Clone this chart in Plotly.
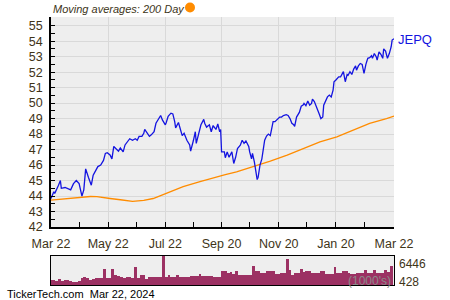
import plotly.graph_objects as go
import pandas as pd

price_dates = [
"2023-03-22","2023-03-25","2023-03-26","2023-03-28","2023-03-30","2023-04-01","2023-04-02","2023-04-06","2023-04-09","2023-04-12",
"2023-04-15","2023-04-18","2023-04-21","2023-04-24","2023-04-26","2023-04-28","2023-05-01","2023-05-04","2023-05-06","2023-05-09",
"2023-05-11","2023-05-14","2023-05-17","2023-05-19","2023-05-21","2023-05-24","2023-05-26","2023-05-28","2023-05-30","2023-06-02",
"2023-06-04","2023-06-07","2023-06-09","2023-06-12","2023-06-14","2023-06-17","2023-06-20","2023-06-22","2023-06-24","2023-06-27",
"2023-06-29","2023-06-30","2023-07-03","2023-07-05","2023-07-07","2023-07-10","2023-07-12","2023-07-15","2023-07-17","2023-07-19",
"2023-07-22","2023-07-23","2023-07-25","2023-07-28","2023-07-30","2023-08-01","2023-08-02","2023-08-05","2023-08-07","2023-08-09",
"2023-08-11","2023-08-14","2023-08-17","2023-08-18","2023-08-21","2023-08-23","2023-08-24","2023-08-26","2023-08-29","2023-09-01",
"2023-09-02","2023-09-04","2023-09-07","2023-09-09","2023-09-11","2023-09-14","2023-09-16","2023-09-18","2023-09-19","2023-09-20",
"2023-09-23","2023-09-24","2023-09-26","2023-09-28","2023-10-01","2023-10-03","2023-10-05","2023-10-07","2023-10-10","2023-10-12",
"2023-10-14","2023-10-16","2023-10-19","2023-10-20","2023-10-22","2023-10-23","2023-10-25","2023-10-28","2023-10-29","2023-10-31",
"2023-11-02","2023-11-04","2023-11-05","2023-11-07","2023-11-09","2023-11-11","2023-11-13","2023-11-14","2023-11-16","2023-11-18",
"2023-11-21","2023-11-23","2023-11-25","2023-11-28","2023-11-30","2023-12-02","2023-12-04","2023-12-06","2023-12-07","2023-12-09",
"2023-12-12","2023-12-14","2023-12-16","2023-12-17","2023-12-19","2023-12-21","2023-12-23","2023-12-25","2023-12-26","2023-12-28",
"2023-12-30","2024-01-01","2024-01-02","2024-01-04","2024-01-06","2024-01-07","2024-01-10","2024-01-11","2024-01-13","2024-01-15",
"2024-01-17","2024-01-18","2024-01-20","2024-01-23","2024-01-25","2024-01-26","2024-01-28","2024-01-30","2024-02-01","2024-02-02",
"2024-02-04","2024-02-06","2024-02-08","2024-02-10","2024-02-11","2024-02-13","2024-02-15","2024-02-17","2024-02-18","2024-02-19",
"2024-02-21","2024-02-23","2024-02-25","2024-02-27","2024-02-28","2024-03-01","2024-03-03","2024-03-04","2024-03-06","2024-03-08",
"2024-03-10","2024-03-11","2024-03-13","2024-03-15","2024-03-17","2024-03-19","2024-03-20","2024-03-22"]

price_close = [
43.84,44.28,44.17,44.40,44.70,45.00,44.50,44.55,44.45,44.40,
44.80,45.00,44.80,44.00,44.40,45.75,45.20,44.70,45.35,45.70,
45.90,46.00,46.30,46.75,46.80,46.65,46.40,47.20,47.10,46.90,
47.10,46.85,47.30,47.50,47.70,47.60,47.70,47.60,47.85,47.85,
48.05,48.30,48.05,47.85,47.95,48.15,48.70,49.00,49.20,48.90,
48.60,48.75,49.15,49.35,49.30,48.80,48.40,48.75,48.30,47.90,
48.05,47.60,47.30,46.90,47.60,48.15,47.40,47.90,48.60,48.95,
48.70,48.45,48.60,48.15,48.55,48.30,48.65,48.15,48.30,46.85,
46.85,46.47,46.85,46.50,46.85,46.10,46.50,47.07,47.28,47.60,
47.40,47.56,47.20,46.85,46.40,46.75,46.20,45.06,45.20,46.00,
46.40,47.20,47.60,47.87,48.00,47.90,48.47,48.80,48.80,48.90,
49.10,49.10,49.20,49.25,49.20,49.00,48.70,48.60,48.50,49.10,
49.40,49.80,49.87,49.98,49.83,50.13,49.87,49.98,50.26,50.10,
49.83,49.55,49.33,49.00,49.10,49.87,50.20,50.40,50.52,50.40,
50.84,51.38,51.49,51.70,51.70,51.85,52.03,51.38,51.85,51.80,
52.03,51.85,52.20,52.40,52.13,52.40,52.56,52.50,52.20,51.92,
52.50,52.89,52.93,53.06,52.89,53.20,53.00,52.78,53.30,53.15,
52.89,53.50,53.36,52.89,53.20,53.64,54.07,54.15]

ma_dates = ["2023-03-22","2023-04-08","2023-04-26","2023-05-03","2023-05-10","2023-05-17","2023-05-24",
"2023-06-04","2023-06-17","2023-06-29","2023-07-09","2023-07-23","2023-08-10","2023-08-28","2023-09-15",
"2023-09-24","2023-10-06","2023-10-24","2023-11-11","2023-11-29","2023-12-16","2024-01-03","2024-01-21",
"2024-02-08","2024-02-25","2024-03-14","2024-03-22"]
ma_200 = [43.74,43.84,43.95,43.97,43.96,43.88,43.84,43.76,43.65,43.72,43.84,44.17,44.60,44.93,45.25,
45.38,45.56,45.88,46.25,46.64,47.07,47.50,47.82,48.25,48.69,49.00,49.16]

# volume in thousands, one bar per 3-day period starting 2023-03-22
vol_start = "2023-03-22"
volume_k = [
1140,1140,850,1290,990,1140,1140,990,760,760,
840,1520,1750,1520,1210,1370,1520,1520,1600,3640,
1520,1520,3560,2280,1900,1750,1520,1670,1670,1520,
4020,1520,2120,2120,1370,1670,1670,1670,1670,1750,
6446,1670,2120,1820,1820,2280,1670,1670,1750,1750,
1900,1900,1900,2430,1900,1900,1900,1900,1750,1750,
1750,3030,3190,2650,2880,2430,3030,2280,2120,2120,
2280,2280,4170,3190,3190,2650,2650,3030,3030,3030,
2430,2430,2650,2650,5690,3410,2280,2650,2650,3640,
2880,3030,3030,2650,2650,2650,3030,3030,2430,2430,
2430,3940,2650,2650,3030,3030,2650,2430,2430,2650,
2650,2650,3410,2650,2650,3410,2650,2650,2650,3410,
2880,4170]
vol_dates = pd.date_range(vol_start, periods=len(volume_k), freq="3D")

x_tick_vals = ["2023-03-22","2023-05-22","2023-07-22","2023-09-20","2023-11-20","2024-01-20","2024-03-22"]
x_tick_text = ["Mar 22","May 22","Jul 22","Sep 20","Nov 20","Jan 20","Mar 22"]
x_minor_vals = ["2023-04-21","2023-06-21","2023-08-21","2023-10-20","2023-12-20","2024-02-20"]
vol_labels = ["6446", "428"]

FONT = "Liberation Sans"
TXT = "#403418"
W, H = 450, 300
L, R, T, B = 51, 394, 17, 227
VT, VB = 256, 285

def px(x):
    return x / W
def py(y):
    return 1 - y / H

fig = go.Figure()
fig.add_trace(go.Scatter(x=ma_dates, y=ma_200, mode="lines",
                         line=dict(color="#FF8C00", width=1.3), xaxis="x", yaxis="y"))
fig.add_trace(go.Scatter(x=price_dates, y=price_close, mode="lines",
                         line=dict(color="#1414E0", width=1.3), xaxis="x", yaxis="y"))
fig.add_trace(go.Bar(x=vol_dates, y=volume_k, marker=dict(color="#9C3163", line=dict(width=0)),
                     width=3 * 86400000, xaxis="x2", yaxis="y2"))

xr = ["2023-03-22", "2024-03-22"]
fig.update_layout(
    width=W, height=H, margin=dict(l=0, r=0, t=0, b=0, autoexpand=False),
    paper_bgcolor="white", plot_bgcolor="#EEEEEE",
    showlegend=False, bargap=0,
    font=dict(family=FONT, color=TXT, size=12),
    xaxis=dict(domain=[px(L), px(R)], range=xr, type="date", automargin=False,
               tickmode="array", tickvals=x_tick_vals, ticktext=x_tick_text,
               ticks="inside", ticklen=5, tickcolor="black",
               showgrid=True, gridcolor="#D9D9D9", gridwidth=1,
               showline=True, linecolor="black", linewidth=1.5,
               tickfont=dict(family=FONT, size=12.5, color=TXT), ticklabelstandoff=4,
               minor=dict(tickvals=x_minor_vals, ticks="inside", ticklen=5, tickcolor="black", showgrid=False),
               anchor="y", fixedrange=True, zeroline=False),
    yaxis=dict(domain=[py(B), py(T)], range=[42, 55.56], automargin=False,
               tickmode="linear", tick0=42, dtick=1,
               ticks="inside", ticklen=4, tickcolor="black",
               showgrid=True, gridcolor="#D9D9D9", gridwidth=1,
               showline=True, linecolor="black", linewidth=1.5,
               tickfont=dict(family=FONT, size=12.5, color=TXT), ticklabelstandoff=4,
               minor=dict(dtick=0.5, tick0=42, ticks="inside", ticklen=4, tickcolor="black", showgrid=False),
               anchor="x", zeroline=False),
    xaxis2=dict(domain=[px(L), px(R)], range=xr, type="date", automargin=False,
                showticklabels=False, ticks="", showgrid=False,
                showline=True, linecolor="black", linewidth=1, mirror=True,
                anchor="y2", zeroline=False),
    yaxis2=dict(domain=[py(VB), py(VT)], range=[0, 6446], automargin=False,
                showticklabels=False, ticks="", showgrid=False,
                showline=True, linecolor="black", linewidth=1, mirror=True,
                anchor="x2", zeroline=False),
)

anns = [
    dict(x=px(L), y=py(9), text="Moving averages: 200 Day", xanchor="left", yanchor="middle",
         font=dict(family=FONT, size=11, color="#3d3520", style="italic")),
    dict(x=px(396), y=py(40), text="JEPQ", xanchor="left", yanchor="middle",
         font=dict(family=FONT, size=13, color="#1414E0")),
    dict(x=px(397), y=py(264), text=vol_labels[0], xanchor="left", yanchor="middle",
         font=dict(family=FONT, size=12, color=TXT)),
    dict(x=px(397), y=py(282), text=vol_labels[1], xanchor="left", yanchor="middle",
         font=dict(family=FONT, size=12, color=TXT)),
    dict(x=px(393), y=py(281), text="(1000's)", xanchor="right", yanchor="middle",
         font=dict(family=FONT, size=12, color="#8a8a8a")),
    dict(x=px(5), y=py(294), text="TickerTech.com  Mar 22, 2024", xanchor="left", yanchor="middle",
         font=dict(family=FONT, size=11, color="black")),
]
for a in anns:
    a.update(xref="paper", yref="paper", showarrow=False)
fig.update_layout(annotations=anns)

fig.add_shape(type="circle", xref="paper", yref="paper",
              x0=px(185), x1=px(195), y0=py(12.5), y1=py(2.5),
              fillcolor="#FF8C00", line=dict(width=0))

fig.write_html("out.html")
